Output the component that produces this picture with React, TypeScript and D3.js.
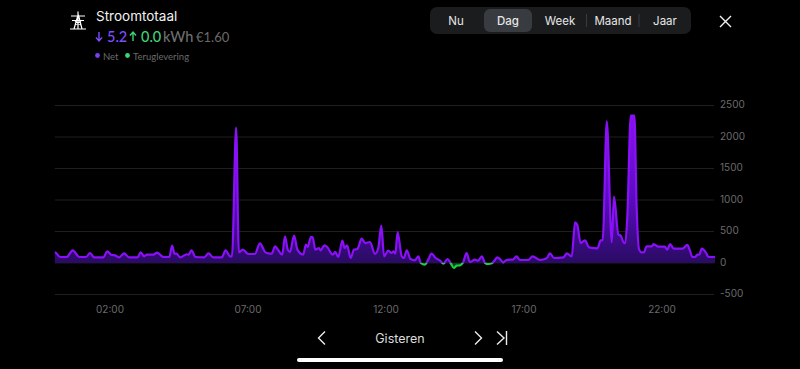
import React from "react";
import * as d3 from "d3";

const hours = [0,0.01,0.19,0.43,0.65,0.89,1.13,1.28,1.42,1.76,1.90,2.06,2.18,2.33,2.51,2.69,3.0,3.11,3.24,3.33,3.57,3.71,3.93,4.15,4.25,4.34,4.41,4.54,4.78,4.85,4.95,5.10,5.41,5.57,5.74,6.05,6.19,6.35,6.42,6.57,6.67,6.81,7.01,7.25,7.43,7.62,7.74,7.86,7.98,8.10,8.24,8.34,8.44,8.52,8.67,8.79,9.0,9.10,9.16,9.28,9.34,9.44,9.57,9.63,9.77,9.87,10.07,10.16,10.27,10.42,10.50,10.59,10.72,10.84,10.96,11.12,11.24,11.42,11.6,11.72,11.83,11.93,12.08,12.2,12.27,12.34,12.42,12.57,12.65,12.75,12.89,13.05,13.17,13.26,13.41,13.53,13.65,13.8,13.96,14.08,14.23,14.34,14.46,14.56,14.68,14.8,14.92,15.04,15.22,15.34,15.47,15.59,15.71,15.83,15.91,16.03,16.13,16.25,16.35,16.47,16.59,16.73,16.85,17.16,17.31,17.58,17.82,17.94,18.09,18.43,18.55,18.73,18.85,18.93,19.05,19.21,19.36,19.66,19.78,19.85,20.0,20.18,20.26,20.42,20.5,20.63,20.67,20.74,20.87,21.0,21.08,21.17,21.26,21.35,21.44,21.63,21.69,21.87,22.1,22.19,22.29,22.43,22.74,22.92,23.0,23.1,23.2,23.28,23.35,23.44,23.6,23.68,23.92];
const watts = [169,169,95,95,201,95,95,159,90,90,185,127,122,90,153,90,90,169,106,132,132,164,95,95,275,148,148,90,138,132,201,95,90,153,90,90,201,106,106,2150,169,212,143,143,312,175,153,148,265,201,132,423,212,175,434,212,132,291,254,412,412,212,238,201,280,254,132,175,95,354,238,280,79,212,222,386,317,333,143,238,592,106,196,159,185,148,492,106,79,201,63,42,106,0,-26,53,148,79,37,-10,63,0,-79,-42,-37,16,159,16,53,37,106,0,-16,-5,26,90,63,10,42,53,53,106,48,48,106,48,74,153,79,90,153,106,645,608,317,360,248,233,360,360,2250,328,1052,450,434,317,317,700,2340,2340,900,212,169,169,265,265,300,259,259,212,300,227,227,290,212,95,95,132,132,227,159,95,95];

const yTicks = [-500, 0, 500, 1000, 1500, 2000, 2500];
const xTicks = [2, 7, 12, 17, 22];
const xTickLabels = ["02:00", "07:00", "12:00", "17:00", "22:00"];
const tabs = ["Nu", "Dag", "Week", "Maand", "Jaar"];
const tabCenters = [456, 508, 560, 613, 665];

const x = d3.scaleLinear().domain([0, 24]).range([54.8, 717.2]);
const y = d3.scaleLinear().domain([-500, 2500]).range([294.5, 105.5]);
const font = "Lato, 'Open Sans', sans-serif";
const uiFont = "Inter, Roboto, sans-serif";
const pts = hours.map((h, i) => [h, watts[i]] as [number, number]);

export default function App() {
  const lineGen = d3.line<[number, number]>().x(d => x(d[0])).y(d => y(d[1])).curve(d3.curveMonotoneX);
  const areaGen = d3.area<[number, number]>().x(d => x(d[0])).y0(y(0)).y1(d => y(d[1])).curve(d3.curveMonotoneX);
  const linePath = lineGen(pts) || "";
  const areaPath = areaGen(pts) || "";
  const y0 = y(0);
  return (
    <svg width={800} height={369} viewBox="0 0 800 369" style={{ position: "fixed", left: 0, top: 0, display: "block" }}>
      <defs>
        <clipPath id="above"><rect x={0} y={0} width={800} height={y0} /></clipPath>
        <clipPath id="below"><rect x={0} y={y0} width={800} height={369 - y0} /></clipPath>
        <linearGradient id="fillG" gradientUnits="userSpaceOnUse" x1={0} x2={0} y1={y(2350)} y2={y0}>
          <stop offset="0" stopColor="#8a10f2" />
          <stop offset="0.55" stopColor="#5a0cc0" />
          <stop offset="1" stopColor="#2a0b63" />
        </linearGradient>
      </defs>
      <rect width={800} height={369} fill="#000" />

      {/* header */}
      <g stroke="#fff" strokeWidth={1.2} fill="none">
        <path d="M70 29H86M74 29L78 15H78.5L82 29M78 11.5V29M71 16H85M72 20.5H84M75 25L81 21M81 25L75 21" />
      </g>
      <text x={96} y={21} fill="#f2f2f2" fontFamily={uiFont} fontSize={13.5}>Stroomtotaal</text>
      <g stroke="#7d4dff" strokeWidth={1.4} fill="none"><path d="M99 32V41M96 37.5L99 41L102 37.5" /></g>
      <text x={107} y={41.5} fill="#7d4dff" fontFamily={font} fontSize={14.5} fontWeight={500}>5.2</text>
      <g stroke="#3fd27a" strokeWidth={1.4} fill="none"><path d="M133 32V41M130 35.5L133 32L136 35.5" /></g>
      <text x={141} y={41.5} fill="#3fd27a" fontFamily={font} fontSize={14.5} fontWeight={500}>0.0</text>
      <text x={163} y={41.5} fill="#6f6f6f" fontFamily={font} fontSize={14.5} fontWeight={500}>kWh</text>
      <text x={196} y={41.5} fill="#6a6a6a" fontFamily={font} fontSize={13}>€1.60</text>
      <circle cx={97.5} cy={55.5} r={2.4} fill="#7d3cf5" />
      <text x={103} y={60} fill="#6a6a6a" fontFamily={font} fontSize={9.5}>Net</text>
      <circle cx={127.5} cy={55.5} r={2.4} fill="#3fd27a" />
      <text x={133} y={60} fill="#6a6a6a" fontFamily={font} fontSize={9.5}>Teruglevering</text>

      {/* segmented control */}
      <rect x={430} y={7} width={261} height={27} rx={7} fill="#1b1c1e" />
      <rect x={484} y={9} width={48} height={23} rx={6} fill="#383b40" />
      <line x1={586.5} x2={586.5} y1={14} y2={27} stroke="#3a3b3e" />
      <line x1={639} x2={639} y1={14} y2={27} stroke="#3a3b3e" />
      {tabs.map((t, i) => (
        <text key={t} x={tabCenters[i]} y={25} textAnchor="middle" fill="#e6e6e6" fontFamily={uiFont} fontSize={11.5} fontWeight={i === 1 ? 500 : 400}>{t}</text>
      ))}
      <path d="M720 16L731 27M731 16L720 27" stroke="#f2f2f2" strokeWidth={1.4} fill="none" />

      {/* grid and y ticks */}
      {yTicks.map(t => (
        <g key={t}>
          <line x1={54.8} x2={714} y1={y(t)} y2={y(t)} stroke={t === 0 ? "#1a1a1a" : "#1f1f1f"} strokeWidth={1} />
          <text x={720} y={y(t) + 2.5} fill="#6b6b6b" fontFamily={uiFont} fontSize={10}>{t}</text>
        </g>
      ))}
      {xTicks.map((h, i) => (
        <text key={h} x={x(h)} y={313} textAnchor="middle" fill="#6b6b6b" fontFamily={uiFont} fontSize={10}>{xTickLabels[i]}</text>
      ))}

      {/* series */}
      <g clipPath="url(#above)">
        <path d={areaPath} fill="url(#fillG)" />
        <path d={linePath} fill="none" stroke="#8a10f8" strokeWidth={2.2} strokeLinejoin="round" />
      </g>
      <g clipPath="url(#below)">
        <path d={areaPath} fill="#0c3d1c" />
        <path d={linePath} fill="none" stroke="#18d23c" strokeWidth={2.2} strokeLinejoin="round" />
      </g>

      {/* navigation */}
      <g stroke="#ececec" strokeWidth={1.4} fill="none">
        <path d="M325 331.5L318.5 338L325 344.5" />
        <path d="M475 331.5L481.5 338L475 344.5" />
        <path d="M497 331.5L504 338L497 344.5M506.5 331V345" />
      </g>
      <text x={400} y={342.5} textAnchor="middle" fill="#dcdcdc" fontFamily={uiFont} fontSize={12.5}>Gisteren</text>
      <rect x={297} y={358} width={206} height={4} rx={2} fill="#fff" />
    </svg>
  );
}
